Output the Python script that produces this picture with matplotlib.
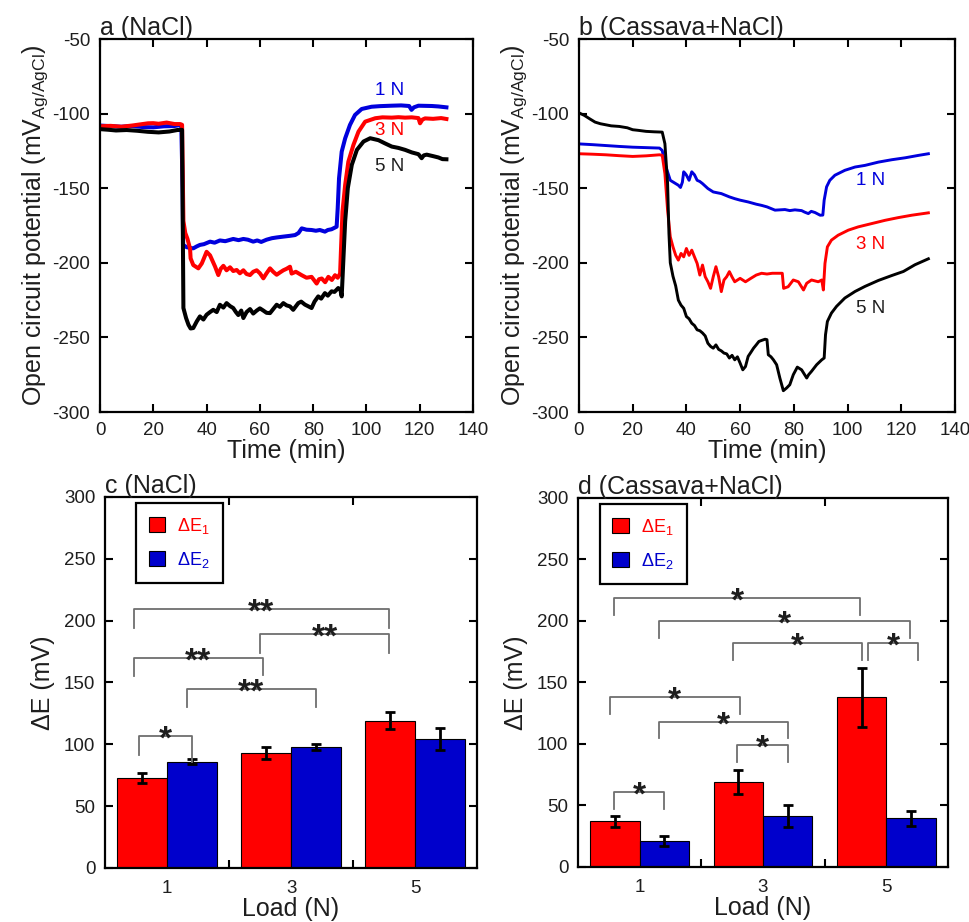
import matplotlib
matplotlib.use('Agg')
import matplotlib.pyplot as plt
from matplotlib.patches import Patch
import numpy as np

plt.rcParams['font.family'] = ['Liberation Sans', 'DejaVu Sans']
plt.rcParams['mathtext.fontset'] = 'custom'
plt.rcParams['mathtext.rm'] = 'Liberation Sans'
plt.rcParams['mathtext.default'] = 'regular'
plt.rcParams['axes.unicode_minus'] = False

# ---- panel a (NaCl), open circuit potential traces
ta_1N = [0, 4, 8, 12, 16, 20, 24, 28, 30.5, 31, 31.2, 32.5, 33.8, 35, 36.3, 37.5, 39, 41.3, 43, 45, 47,
         50, 52, 53.8, 55.5, 57.5, 59, 60.5, 62.5, 64.5, 66.3, 68.5, 71.3, 73.2, 74.5, 75.7, 77.5, 79.4,
         81, 82.5, 84.4, 85.5, 86.9, 88.8, 89.2, 89.7, 90.7, 92, 93.8, 95.7, 98.2, 101.9, 105, 109.4,
         113, 116, 116.9, 117.8, 119.5, 122, 124.5, 127, 130]
ea_1N = [-108, -108.4, -108.8, -108.3, -109, -109.2, -108.5, -108.3, -107.5, -150, -188, -189.5, -190,
         -190.3, -189, -188, -187.5, -185.8, -186.5, -185, -185.5, -184, -184.8, -184, -184.5, -185.8,
         -185, -186, -184.5, -183.5, -183, -182.5, -181.9, -181.4, -180, -176.9, -177.8, -178, -178.5,
         -178, -179.1, -178, -177.5, -175.8, -163.5, -143.4, -125.5, -116.6, -107.6, -100.9, -96.9,
         -95.4, -95, -94.7, -94.5, -94.9, -97.5, -95.8, -94.7, -94.8, -94.9, -95.2, -95.8]

ta_3N = [0, 4, 8, 12, 16, 18, 20, 22, 25, 28, 30, 30.8, 31.3, 32, 32.8, 33.8, 34, 35, 36.9, 38.2, 39, 40,
         41.3, 42.3, 43.2, 44.4, 45.3, 46.3, 47.5, 48.8, 50, 51.3, 52.5, 53.8, 55, 56.3, 57.5, 58.8, 60,
         61.3, 62.5, 63.8, 65, 66.3, 67.5, 68.8, 70, 71.3, 71.9, 73.5, 75.7, 77.5, 79.4, 80.5, 81.3, 82.2,
         83.2, 84.5, 85.7, 87, 88.2, 89.2, 90.1, 90.5, 91, 92, 93.2, 95.1, 97, 99.5, 103.3, 106, 109.5,
         112, 114.5, 117, 119.5, 120.1, 121, 122, 125, 128, 130]
ea_3N = [-108.5, -108.2, -108.8, -108, -107, -106.5, -106.4, -106.8, -106, -107, -107, -107.5, -172,
         -180, -183.8, -190.5, -197, -201.5, -203.7, -200.4, -197, -192.6, -195, -199, -202.6, -208.2,
         -204, -202, -205, -203, -205.5, -204.8, -207, -205, -207.5, -208.2, -206, -205, -207, -210.4,
         -207, -203.7, -206, -208, -206.5, -205, -204, -202.6, -207.2, -206, -208.3, -210, -209.4, -212,
         -213.9, -211, -210.5, -213, -209.4, -211.5, -208.3, -210, -207.2, -188.1, -165.7, -147.8,
         -132.2, -121, -112.1, -105.4, -103.1, -102.5, -102.7, -102.4, -102.7, -102.5, -103, -106.5,
         -104, -103.2, -103.5, -103, -103.6]

ta_5N = [0, 3, 6, 10, 14, 18, 22, 26, 29, 30.8, 31.3, 32.3, 33.2, 34, 35, 36.3, 37.5, 38.8, 40, 41.3,
         42.5, 43.8, 45, 46.3, 47.5, 48.8, 50, 51, 51.9, 53, 53.8, 55, 56.3, 57.5, 58.8, 60, 61.3, 62.5,
         63.8, 65, 66.3, 67.5, 68.8, 70, 71.3, 72.5, 74.4, 75.5, 76.9, 78, 79.4, 80.5, 81.9, 83, 84.4,
         85.5, 86.9, 88, 89.4, 90.2, 90.7, 91.3, 92, 93, 94.5, 96.4, 98.9, 101.4, 104.5, 107, 109.5, 112,
         114.5, 117, 119.5, 120.7, 121.5, 122.6, 125, 127, 128.5, 130]
ea_5N = [-110.4, -110.8, -111.3, -111, -111.5, -112.2, -112.6, -112, -111, -110.9, -230.3, -237, -241.5,
         -244, -243.7, -239.3, -235.9, -238, -234.8, -233, -231.5, -233, -228.1, -230, -227, -229,
         -230.3, -233, -235, -232, -237, -233, -231, -234, -232, -230.5, -232, -233.5, -233.7, -231,
         -228.1, -229.5, -227, -228.5, -229.2, -231.5, -227, -226, -228, -229, -230.3, -226, -222.5,
         -224, -220.3, -222, -219.1, -219.5, -216.9, -218, -222.5, -199, -172.2, -149.9, -134.3, -124.3,
         -118.7, -116.5, -117.8, -120, -122.1, -123, -124.3, -126, -127.2, -129.9, -128, -127.5, -128.5,
         -129.4, -130.5, -130.6]

# ---- panel b (Cassava+NaCl)
tb_1N = [0, 5, 10, 15, 20, 25, 30, 31, 32, 33, 34, 35, 36, 37, 37.8, 38.5, 39, 39.5, 40, 41, 42, 43, 44,
         45, 46, 48, 50, 53, 56, 58, 60, 63, 66, 68, 70, 73, 76.7, 78.5, 80.4, 82.9, 84, 85.4, 86.5, 87.9,
         89.8, 90.8, 91.3, 92.2, 93.4, 95.3, 99, 102.8, 106.5, 111.5, 116.5, 121.5, 126.4, 130.1]
eb_1N = [-120.3, -120.8, -121.4, -122, -122.5, -122.8, -123.1, -124.7, -133.6, -139.1, -144.7, -145.8,
         -146.9, -148, -149.5, -146, -139, -140, -141.2, -144.7, -139, -141, -144.7, -145.5, -146.9,
         -150.2, -152.5, -153.6, -155.8, -157, -158, -159.2, -160.7, -161.5, -162.5, -164.7, -164.3,
         -165, -164.5, -165, -166, -167, -165.5, -166.3, -168.1, -168, -158, -149.1, -144.7, -141.3,
         -138, -135.8, -134.7, -132.5, -130.9, -129.6, -128, -126.9]

tb_3N = [0, 5, 10, 15, 20, 25, 30, 31, 32, 33, 34, 35, 36, 37, 38, 39, 40, 41, 42, 43, 44, 45, 46, 47, 48,
         49, 50, 51, 52, 53, 54, 55, 56, 57, 58, 60, 62, 64, 66, 68, 70, 72, 74.2, 75.7, 76.2, 77.9, 79.8,
         81.7, 83.6, 84.8, 86.6, 89.1, 90.4, 91, 91.6, 92.5, 94, 96.5, 100.3, 104, 109, 114, 118.9, 123.9,
         130.1]
eb_3N = [-126.9, -127.2, -127.6, -128.2, -128.7, -128.3, -127.6, -128, -140.3, -164.8, -182.6, -189.3,
         -194.9, -198.2, -193.7, -196, -190.4, -195, -191.5, -196, -200.4, -208.2, -201.5, -209.3,
         -212.7, -217.1, -209.3, -202.6, -209.3, -219.3, -211.5, -209.3, -205.9, -209.5, -212.7, -210.4,
         -212.7, -210.4, -208.2, -207, -207.5, -207, -207, -207, -217.1, -216, -211.5, -212.7, -218.2,
         -213.7, -211.5, -212.7, -211.5, -218.2, -200.4, -189.3, -184.8, -181.5, -178.1, -175.9, -173.7,
         -171.5, -169.7, -168.1, -166.5]

tb_5N = [0, 2, 4, 6, 8, 10, 12, 15, 18, 20, 22, 25, 28, 31, 32, 33, 33.5, 34, 35, 36, 37, 38, 39, 40, 41,
         42, 43, 44, 45, 46, 47, 48, 49, 50, 51, 52, 53, 54, 55, 56, 57, 58, 59, 60, 61, 62, 63, 64, 65,
         66, 67, 68, 69.3, 70, 70.5, 71.5, 72.4, 73.6, 74.8, 76.1, 77.3, 78.5, 79.8, 81.3, 82.9, 84.8,
         85.5, 86.6, 88.5, 90.4, 91.3, 91.8, 92.5, 94, 95.9, 99, 102.8, 106.5, 111.5, 116.5, 120.8,
         125.1, 130.1]
eb_5N = [-99.5, -101.2, -103.5, -105.7, -106.8, -107.5, -108.2, -108.6, -109.5, -110.8, -111.2, -111.9,
         -112.2, -112.4, -120.2, -146.9, -180.3, -200, -209, -215.4, -225, -228.4, -230.5, -236, -237.5,
         -240.5, -242, -244.9, -245.5, -247, -249, -253.9, -256, -257.2, -255, -258, -259, -260.5, -261,
         -263.8, -262, -265, -263, -267.2, -271.7, -269.5, -262.7, -260, -257.2, -255, -252.7, -252,
         -251.2, -251.5, -261.6, -263, -265, -268.3, -277.2, -285.7, -283.9, -281.7, -275, -269.9,
         -271.7, -277.2, -275, -272.7, -268.3, -265, -263.8, -248.2, -239.3, -233.7, -229.2, -223.6,
         -219.2, -215.8, -211.8, -208.5, -205.8, -201.3, -197.3]

# ---- panels c, d: potential drops
loads = ['1', '3', '5']
c_dE1 = [73, 93, 119]
c_dE1_err = [4, 4.5, 7]
c_dE2 = [86, 98, 104]
c_dE2_err = [1.8, 2.5, 9]
d_dE1 = [37, 69, 138]
d_dE1_err = [4.3, 10, 24]
d_dE2 = [21, 41.5, 39.5]
d_dE2_err = [4.3, 8.7, 6]

# significance brackets: x left, x right, top, left leg end, right leg end, label
c_brackets = [(-0.23, 0.20, 106.5, 91.5, 86, '*'),
              (0.16, 1.20, 145, 130.5, 130.5, '**'),
              (-0.27, 0.77, 170, 155, 156, '**'),
              (0.75, 1.79, 189, 174, 174, '**'),
              (-0.27, 1.79, 209, 194, 194, '**')]
d_brackets = [(-0.21, 0.20, 61, 47.5, 47.5, '*'),
              (0.79, 1.20, 99, 85.5, 85.5, '*'),
              (0.16, 1.20, 118, 104.5, 104.5, '*'),
              (-0.24, 0.81, 138, 124.5, 124.5, '*'),
              (0.76, 1.80, 182, 168.5, 168.5, '*'),
              (1.85, 2.26, 182, 168.5, 168.5, '*'),
              (0.16, 2.19, 200, 186, 186, '*'),
              (-0.21, 1.79, 219, 205, 205, '*')]

BLUE = '#0000dd'
RED = '#ff0000'
TXT = '#1e1e1e'

fig = plt.figure(figsize=(9.69, 9.22), dpi=100)
ax_a = fig.add_axes([0.1032, 0.5531, 0.3850, 0.4046])
ax_b = fig.add_axes([0.5975, 0.5531, 0.3880, 0.4046])
ax_c = fig.add_axes([0.1084, 0.0586, 0.3839, 0.4024])
ax_d = fig.add_axes([0.5965, 0.0597, 0.3818, 0.4002])


def style(ax):
    for s in ax.spines.values():
        s.set_linewidth(1.6)
    ax.tick_params(direction='in', top=True, right=True, length=6, width=1.5,
                   labelsize=13.5, pad=7, labelcolor=TXT)


def ocp_panel(ax, title, series, labels, lw):
    for (t, e, c) in series:
        ax.plot(t, e, color=c, lw=lw, solid_joinstyle='round')
    for (x, y, s, c) in labels:
        ax.text(x, y, s, color=c, fontsize=13.5, ha='center', va='center')
    ax.set_xlim(0, 140)
    ax.set_ylim(-300, -50)
    ax.set_xticks(np.arange(0, 141, 20))
    ax.set_yticks(np.arange(-300, -49, 50))
    style(ax)
    ax.set_xlabel('Time (min)', fontsize=18, labelpad=0, color=TXT)
    ax.set_ylabel('Open circuit potential (mV$_{Ag/AgCl}$)', fontsize=18, labelpad=2, color=TXT)
    ax.set_title(title, loc='left', fontsize=18, pad=3, color=TXT)


ocp_panel(ax_a, 'a (NaCl)',
          [(ta_1N, ea_1N, BLUE), (ta_3N, ea_3N, RED), (ta_5N, ea_5N, 'black')],
          [(108.8, -84.4, '1 N', BLUE), (108.8, -111, '3 N', RED), (108.8, -135.5, '5 N', TXT)], 2.9)
ocp_panel(ax_b, 'b (Cassava+NaCl)',
          [(tb_1N, eb_1N, BLUE), (tb_3N, eb_3N, RED), (tb_5N, eb_5N, 'black')],
          [(108.7, -144.7, '1 N', BLUE), (108.7, -187.5, '3 N', RED), (108.7, -230.9, '5 N', TXT)], 2.1)


def bar_panel(ax, title, e1, e1err, e2, e2err, brackets, leg_x):
    x = np.arange(len(loads))
    w = 0.4
    ax.bar(x - w / 2, e1, w, color=RED, edgecolor='black', linewidth=0.8)
    ax.bar(x + w / 2, e2, w, color='#0000cc', edgecolor='black', linewidth=0.8)
    ax.errorbar(x - w / 2, e1, yerr=e1err, fmt='none', ecolor='black', elinewidth=2,
                capsize=3.5, capthick=2)
    ax.errorbar(x + w / 2, e2, yerr=e2err, fmt='none', ecolor='black', elinewidth=2,
                capsize=3.5, capthick=2)
    for (x1, x2, top, l1, l2, lab) in brackets:
        ax.plot([x1, x1, x2, x2], [l1, top, top, l2], color='#6e6e6e', lw=1.3)
        ax.annotate(lab, ((x1 + x2) / 2, top), xytext=(0, -9), textcoords='offset points',
                    ha='center', va='baseline', fontsize=24, fontweight='bold', color=TXT)
    ax.set_xlim(-0.5, 2.5)
    ax.set_ylim(0, 300)
    ax.set_yticks(np.arange(0, 301, 50))
    ax.set_xticks([0.5, 1.5])
    ax.set_xticklabels([])
    ax.set_xticks(x, minor=True)
    ax.set_xticklabels(loads, minor=True)
    style(ax)
    ax.tick_params(axis='x', which='minor', length=0, labelsize=13.5, pad=9, labelcolor=TXT)
    ax.set_xlabel('Load (N)', fontsize=18, labelpad=0, color=TXT)
    ax.set_ylabel('ΔE (mV)', fontsize=18, labelpad=6, color=TXT)
    ax.set_title(title, loc='left', fontsize=18, pad=3, color=TXT)
    handles = [Patch(facecolor=RED, edgecolor='black', linewidth=0.8),
               Patch(facecolor='#0000cc', edgecolor='black', linewidth=0.8)]
    leg = ax.legend(handles, ['ΔE$_1$', 'ΔE$_2$'], loc='upper left', bbox_to_anchor=(leg_x, 0.984),
                    borderaxespad=0, fontsize=13, handlelength=0.9, handleheight=0.9,
                    fancybox=False, edgecolor='black', framealpha=1, borderpad=0.7,
                    labelspacing=0.8, handletextpad=0.7)
    leg.get_frame().set_linewidth(1.6)
    leg.get_texts()[0].set_color(RED)
    leg.get_texts()[1].set_color('#0000cc')


bar_panel(ax_c, 'c (NaCl)', c_dE1, c_dE1_err, c_dE2, c_dE2_err, c_brackets, 0.083)
bar_panel(ax_d, 'd (Cassava+NaCl)', d_dE1, d_dE1_err, d_dE2, d_dE2_err, d_brackets, 0.059)

fig.savefig('out.png', dpi=100)
